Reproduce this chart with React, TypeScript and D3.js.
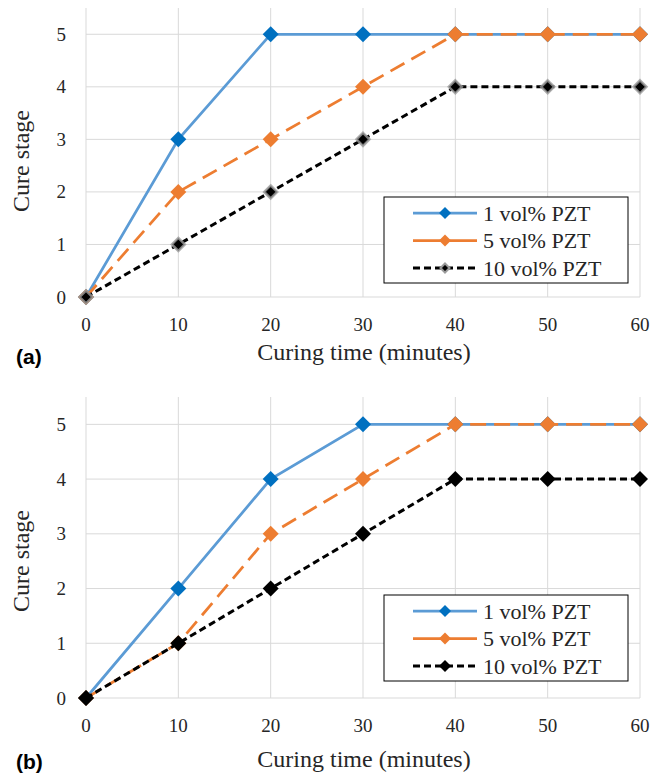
import React from "react";
import * as d3 from "d3";

const times = [0, 10, 20, 30, 40, 50, 60];
const xTicks = [0, 10, 20, 30, 40, 50, 60];
const yTicks = [0, 1, 2, 3, 4, 5];
const seriesNames = ["1 vol% PZT", "5 vol% PZT", "10 vol% PZT"];
const panelALabel = "(a)";
const panelBLabel = "(b)";
const a1 = [0, 3, 5, 5, 5, 5, 5];
const a5 = [0, 2, 3, 4, 5, 5, 5];
const a10 = [0, 1, 2, 3, 4, 4, 4];
const b1 = [0, 2, 4, 5, 5, 5, 5];
const b5 = [0, 1, 3, 4, 5, 5, 5];
const b10 = [0, 1, 2, 3, 4, 4, 4];

const serif = "Liberation Serif, DejaVu Serif, serif";

type StyleDef = { line: string; marker: string; dash: string; width: number; size: number; halo?: boolean };

function diamond(cx: number, cy: number, r: number) {
  return `M${cx},${cy - r}L${cx + r},${cy}L${cx},${cy + r}L${cx - r},${cy}Z`;
}

function Panel({ yTop, yZero, data, label, legendTop, halo, titleOff, labelOff, yTitleCenter }: any) {
  const x = d3.scaleLinear().domain([0, 60]).range([86, 640]);
  const y = d3.scaleLinear().domain([0, 5.5]).range([yZero, yTop]);
  const styles: StyleDef[] = [
    { line: "#5B9BD5", marker: "#0070C0", dash: "none", width: 2.75, size: 8 },
    { line: "#ED7D31", marker: "#ED7D31", dash: "16,8", width: 2.75, size: 8 },
    { line: "#000000", marker: "#000000", dash: "7,4", width: 3, size: halo ? 6.5 : 8, halo },
  ];
  const line = d3.line<number>().x((_, i) => x(times[i])).y((d) => y(d));
  const rows = [legendTop + 16, legendTop + 43.5, legendTop + 71];
  const txt = { fontFamily: serif };
  return (
    <g>
      {xTicks.map((t) => (
        <line key={"vx" + t} x1={x(t)} x2={x(t)} y1={yTop} y2={yZero} stroke="#D9D9D9" strokeWidth={1} />
      ))}
      {yTicks.map((t) => (
        <line key={"hy" + t} x1={x(0)} x2={x(60)} y1={y(t)} y2={y(t)} stroke="#D9D9D9" strokeWidth={1} />
      ))}
      {yTicks.map((t) => (
        <text key={"yl" + t} x={66} y={y(t) + 6.5} textAnchor="end" style={txt} fontSize={19} fill="#262626">
          {t}
        </text>
      ))}
      {xTicks.map((t) => (
        <text key={"xl" + t} x={x(t)} y={yZero + 33.5} textAnchor="middle" style={txt} fontSize={19} fill="#262626">
          {t}
        </text>
      ))}
      <text x={364} y={yZero + titleOff} textAnchor="middle" style={txt} fontSize={24} fill="#262626">
        Curing time (minutes)
      </text>
      <text transform={`translate(29,${yTitleCenter}) rotate(-90)`} textAnchor="middle" style={txt} fontSize={24} fill="#262626">
        Cure stage
      </text>
      <text x={16} y={yZero + labelOff} style={{ fontFamily: "Liberation Sans, Arial, sans-serif" }} fontWeight="bold" fontSize={21} fill="#000">
        {label}
      </text>
      {data.map((vals: number[], si: number) => {
        const s = styles[si];
        return (
          <g key={"s" + si}>
            <path d={line(vals) || ""} fill="none" stroke={s.line} strokeWidth={s.width} strokeDasharray={s.dash} />
            {vals.map((v, i) => (
              <path
                key={i}
                d={diamond(x(times[i]), y(v), s.size)}
                fill={s.marker}
                stroke={s.halo ? "#9A9A9A" : "none"}
                strokeWidth={s.halo ? 2.5 : 0}
                strokeOpacity={0.8}
              />
            ))}
          </g>
        );
      })}
      <rect x={384} y={legendTop} width={244} height={86} fill="#fff" stroke="#000" strokeWidth={1} />
      {seriesNames.map((n, si) => {
        const s = styles[si];
        const ry = rows[si];
        return (
          <g key={"lg" + si}>
            <line x1={413} x2={477} y1={ry} y2={ry} stroke={s.line} strokeWidth={s.width} strokeDasharray={si === 2 ? "7,4" : "none"} />
            <path d={diamond(445, ry, si === 2 ? (halo ? 4.5 : 6) : 6)} fill={s.marker} stroke={s.halo ? "#9A9A9A" : "none"} strokeWidth={s.halo ? 2 : 0} />
            <text x={483} y={ry + 7.5} style={txt} fontSize={22} fill="#262626">
              {n}
            </text>
          </g>
        );
      })}
    </g>
  );
}

export default function App() {
  return (
    <svg width={654} height={774} style={{ position: "absolute", left: 0, top: 0, background: "#fff" }}>
      <rect width={654} height={774} fill="#fff" />
      <Panel yTop={8} yZero={297} data={[a1, a5, a10]} label={panelALabel} legendTop={197} halo={true} titleOff={63} labelOff={67} yTitleCenter={161} />
      <Panel yTop={397} yZero={698} data={[b1, b5, b10]} label={panelBLabel} legendTop={595} halo={false} titleOff={69} labelOff={71} yTitleCenter={561} />
    </svg>
  );
}
